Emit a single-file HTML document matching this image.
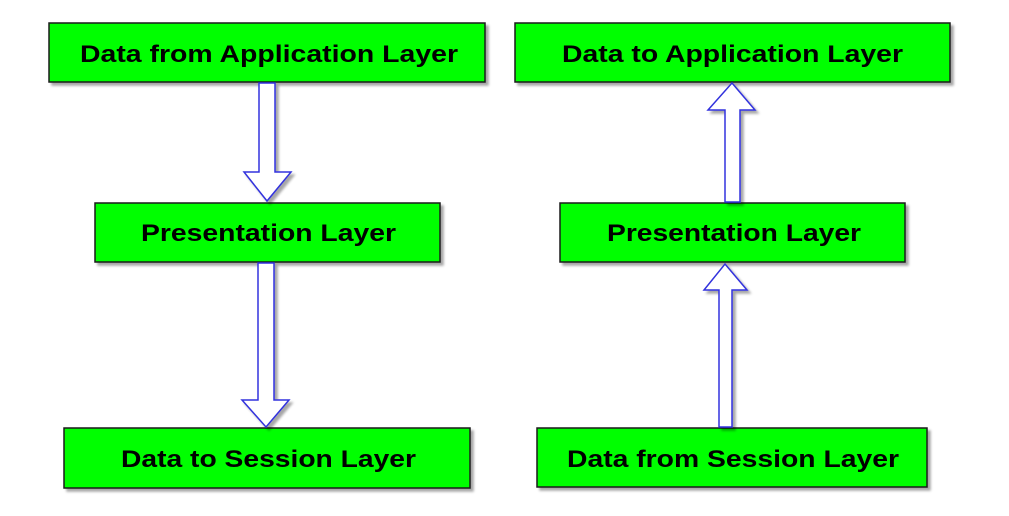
<!DOCTYPE html>
<html><head><meta charset="utf-8"><style>
html,body{margin:0;padding:0;background:#fff;}
svg{display:block;}
text{font-family:"Liberation Sans",Arial,sans-serif;font-weight:bold;font-size:24px;fill:#000;}
</style></head><body>
<svg width="1009" height="516" viewBox="0 0 1009 516" xmlns="http://www.w3.org/2000/svg">
<defs>
<filter id="sh" x="-5%" y="-20%" width="115%" height="150%">
<feGaussianBlur in="SourceAlpha" stdDeviation="1.2"/>
<feOffset dx="3" dy="3" result="o"/>
<feComponentTransfer><feFuncA type="linear" slope="0.35"/></feComponentTransfer>
<feMerge><feMergeNode/><feMergeNode in="SourceGraphic"/></feMerge>
</filter>
</defs>
<g fill="#00ff00" stroke="#1a1a1a" stroke-width="1.5" filter="url(#sh)">
<rect x="49" y="23" width="436" height="59"/>
<rect x="95" y="203" width="345" height="59"/>
<rect x="64" y="428" width="406" height="60"/>
<rect x="515" y="23" width="435" height="59"/>
<rect x="560" y="203" width="345" height="59"/>
<rect x="537" y="428" width="390" height="59"/>
</g>
<g fill="#fff" stroke="#3333dd" stroke-width="1.5" stroke-linejoin="miter" filter="url(#sh)">
<path d="M259,83 L275,83 L275,172 L291,172 L267,201 L244,172 L259,172 Z"/>
<path d="M258,263 L274,263 L274,400 L289,400 L266,427 L242,400 L258,400 Z"/>
<path d="M732,83 L755,110 L740,110 L740,202 L725,202 L725,110 L708,110 Z"/>
<path d="M725,264 L747,290 L732,290 L732,427 L719,427 L719,290 L704,290 Z"/>
</g>
<text x="80" y="62" textLength="378" lengthAdjust="spacingAndGlyphs">Data from Application Layer</text>
<text x="141" y="241" textLength="255" lengthAdjust="spacingAndGlyphs">Presentation Layer</text>
<text x="121" y="467" textLength="295" lengthAdjust="spacingAndGlyphs">Data to Session Layer</text>
<text x="562" y="62" textLength="341" lengthAdjust="spacingAndGlyphs">Data to Application Layer</text>
<text x="607" y="241" textLength="254" lengthAdjust="spacingAndGlyphs">Presentation Layer</text>
<text x="567" y="467" textLength="332" lengthAdjust="spacingAndGlyphs">Data from Session Layer</text>
</svg>
</body></html>
